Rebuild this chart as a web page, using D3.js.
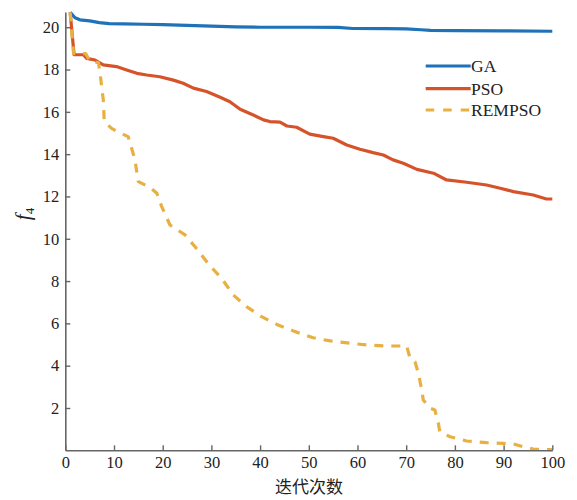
<!DOCTYPE html>
<html><head><meta charset="utf-8">
<script src="https://cdn.jsdelivr.net/npm/d3@7"></script>
<style>
html,body{margin:0;padding:0;background:#fff;}
svg{display:block;}
</style></head>
<body>
<svg id="chart" width="577" height="500"></svg>
<script>
// ---- data ----
const xTicks = [0,10,20,30,40,50,60,70,80,90,100];
const yTicks = [2,4,6,8,10,12,14,16,18,20];
const seriesNames = ["GA","PSO","REMPSO"];

const gaIter = [1,2,3,5,7,9,12,16,20,25,30,35,40,50,56,59,66,70,73,75,80,90,100];
const gaVal  = [20.7,20.45,20.35,20.3,20.22,20.17,20.16,20.14,20.12,20.09,20.05,20.02,20.0,20.0,19.99,19.94,19.93,19.92,19.88,19.85,19.84,19.83,19.81];

const psoIter = [1,1.8,3.7,4.4,6.1,7.8,10.5,12.6,14.7,16.7,19.4,22.2,24.2,26.3,29,31.8,33.8,35.9,38.6,40.7,42,44.1,45.5,47.5,50.2,53,55,57.8,60.5,63.2,65.3,67.3,69.4,72.2,75.6,78.3,82.4,86.5,89.3,92,96.1,98.8,100];
const psoVal  = [20.7,18.7,18.7,18.53,18.45,18.22,18.14,17.98,17.82,17.74,17.66,17.5,17.35,17.12,16.96,16.69,16.48,16.12,15.85,15.62,15.54,15.51,15.33,15.27,14.95,14.83,14.75,14.43,14.23,14.07,13.96,13.73,13.57,13.28,13.1,12.78,12.67,12.54,12.39,12.23,12.07,11.88,11.88];

const remIter = [1,1.7,4.2,5.1,6.8,7.1,7.8,8,9.5,10.9,12.9,13.3,14.3,15,17.4,18.8,19.8,21.5,24.6,26.6,27.7,29.6,32.1,34.5,37.2,40.3,43.7,47.2,50.9,54.4,58.5,61.9,66,70.1,70.8,71.8,72.5,73.2,73.5,74.9,75.9,76.6,76.9,79,82.4,86.5,89.9,92,94,96.1,98.5,100];
const remVal  = [20.7,18.75,18.75,18.37,18.33,17.9,16.56,15.54,15.22,15.04,14.83,14.53,13.73,12.7,12.43,12.15,11.52,10.65,10.18,9.63,9.31,8.75,8.13,7.34,6.79,6.32,5.92,5.61,5.32,5.17,5.06,4.98,4.93,4.93,4.35,4.19,3.64,2.85,2.38,1.99,1.9,1.28,0.88,0.64,0.44,0.36,0.33,0.3,0.17,0.06,0.04,0.03];

const colors = ["#1f72b8","#d6532a","#e8b040"];

// ---- drawing ----
const svg = d3.select("#chart");
const x = d3.scaleLinear().domain([0,100]).range([65.3,552.3]);
const y = d3.scaleLinear().domain([0,20.72]).range([450.3,12]);

const serif = "'Liberation Serif','Times New Roman',serif";
const axisColor = "#666";

const series = [
  {name:seriesNames[0], it:gaIter, v:gaVal, color:colors[0], dash:null},
  {name:seriesNames[1], it:psoIter, v:psoVal, color:colors[1], dash:null},
  {name:seriesNames[2], it:remIter, v:remVal, color:colors[2], dash:"9,8"}
];

const line = d3.line().x(d=>x(d[0])).y(d=>y(d[1])).curve(d3.curveLinear);

const order = [1,0,2];
order.forEach(i=>{
  const s = series[i];
  const pts = s.it.map((t,j)=>[t,s.v[j]]);
  svg.append("path").datum(pts)
    .attr("d", line)
    .attr("fill","none")
    .attr("stroke", s.color)
    .attr("stroke-width", 3.2)
    .attr("stroke-linejoin","round")
    .attr("stroke-dasharray", s.dash);
});

// axes
const xAxis = d3.axisBottom(x).tickValues(xTicks).tickSizeInner(-5).tickSizeOuter(0).tickPadding(6);
const yAxis = d3.axisLeft(y).tickValues(yTicks).tickSizeInner(-5).tickSizeOuter(0).tickPadding(6);

const gx = svg.append("g").attr("transform","translate(0,450.3)").call(xAxis);
const gy = svg.append("g").attr("transform","translate(65.3,0)").call(yAxis);
[gx,gy].forEach(g=>{
  g.select(".domain").attr("stroke",axisColor).attr("stroke-width",1.6);
  g.selectAll(".tick line").attr("stroke",axisColor).attr("stroke-width",1.4);
  g.selectAll(".tick text").attr("fill","#222").style("font-family",serif).style("font-size","16.5px");
});

// axis titles
svg.append("text")
  .attr("x", 309).attr("y", 493)
  .attr("text-anchor","middle")
  .style("font-family","'Noto Sans CJK SC',sans-serif")
  .style("font-size","17px").attr("fill","#222")
  .text("迭代次数");

const yl = svg.append("text")
  .attr("transform","translate(30,214) rotate(-90)")
  .attr("text-anchor","middle")
  .style("font-family",serif).attr("fill","#222");
yl.append("tspan").style("font-style","italic").style("font-size","21px").text("f");
yl.append("tspan").attr("dy",4).style("font-size","13px").text("4");

// legend
const legY = [66,88.7,110];
series.forEach((s,i)=>{
  svg.append("line")
    .attr("x1",425.7).attr("x2",470.7)
    .attr("y1",legY[i]).attr("y2",legY[i])
    .attr("stroke",s.color).attr("stroke-width",3.2)
    .attr("stroke-dasharray", s.dash ? "8.5,9" : null);
  svg.append("text")
    .attr("x",471).attr("y",legY[i]+6)
    .style("font-family",serif).style("font-size","17.5px").attr("fill","#222")
    .text(s.name);
});
</script>
</body></html>
